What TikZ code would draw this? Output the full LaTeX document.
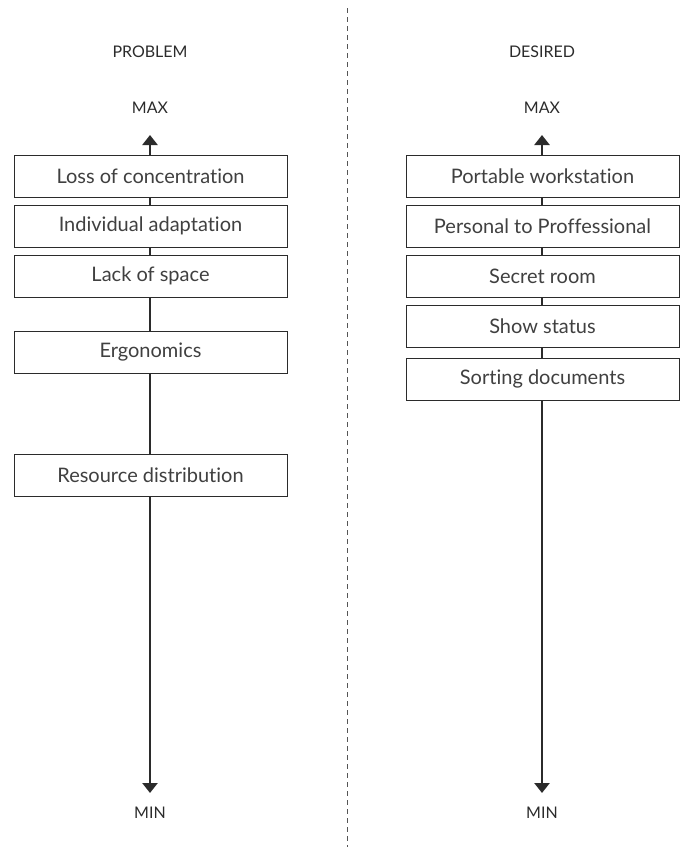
\documentclass[tikz,border=0pt]{standalone}
\usepackage{fontspec}
\setmainfont{Lato}[Ligatures=NoCommon]
\usetikzlibrary{arrows.meta,positioning,backgrounds}
\definecolor{ink}{HTML}{2B2B2B}
\tikzset{
  item/.style={draw=ink,line width=0.5pt,fill=white,minimum width=136.5pt,
    minimum height=21pt,inner sep=0pt,text=ink!90,font=\fontsize{10}{12}\selectfont},
  tag/.style={text=ink,inner sep=0pt,font=\fontsize{8}{10}\selectfont},
  axis/.style={{Triangle[width=7.5pt,length=5pt]}-{Triangle[width=7.5pt,length=5pt]},
    draw=ink,line width=1.3pt},
  divider/.style={draw=ink!80,line width=0.5pt,dash pattern=on 2.5pt off 2pt}
}
\begin{document}
\begin{tikzpicture}[x=0.5pt,y=-0.5pt,node distance=3.5pt]
\useasboundingbox (0,0) rectangle (684,847);
% headings and ends of the scales
\node[tag] (probl) at (150,52) {PROBLEM};
\node[tag] (desir) at (542,52) {DESIRED};
\node[tag] (maxl) at (150,108) {MAX};
\node[tag] (maxr) at (542,108) {MAX};
\node[tag] (minl) at (150,813) {MIN};
\node[tag] (minr) at (542,813) {MIN};
\coordinate (ltop) at (150,135);
\coordinate (lbot) at (150,793);
\coordinate (rtop) at (542,135);
\coordinate (rbot) at (542,793);
\coordinate (dtop) at (347,8);
\coordinate (dbot) at (347,847);
% problem column
\node[item] (loss) at (150.5,176) {Loss of concentration};
\node[item,below=of loss] (adapt) {Individual adaptation};
\node[item,below=of adapt] (space) {Lack of space};
\node[item,below=16.5pt of space] (ergo) {Ergonomics};
\node[item,below=40pt of ergo] (resrc) {Resource distribution};
% desired column
\node[item] (port) at (542.5,176) {Portable workstation};
\node[item,below=of port] (pers) {Personal to Proffessional};
\node[item,below=of pers] (secret) {Secret room};
\node[item,below=of secret] (status) {Show status};
\node[item,below=5pt of status] (sort) {Sorting documents};
\begin{scope}[on background layer]
\draw[axis] (lbot)--(ltop);
\draw[axis] (rbot)--(rtop);
\draw[divider] (dtop)--(dbot);
\end{scope}
\end{tikzpicture}
\end{document}
